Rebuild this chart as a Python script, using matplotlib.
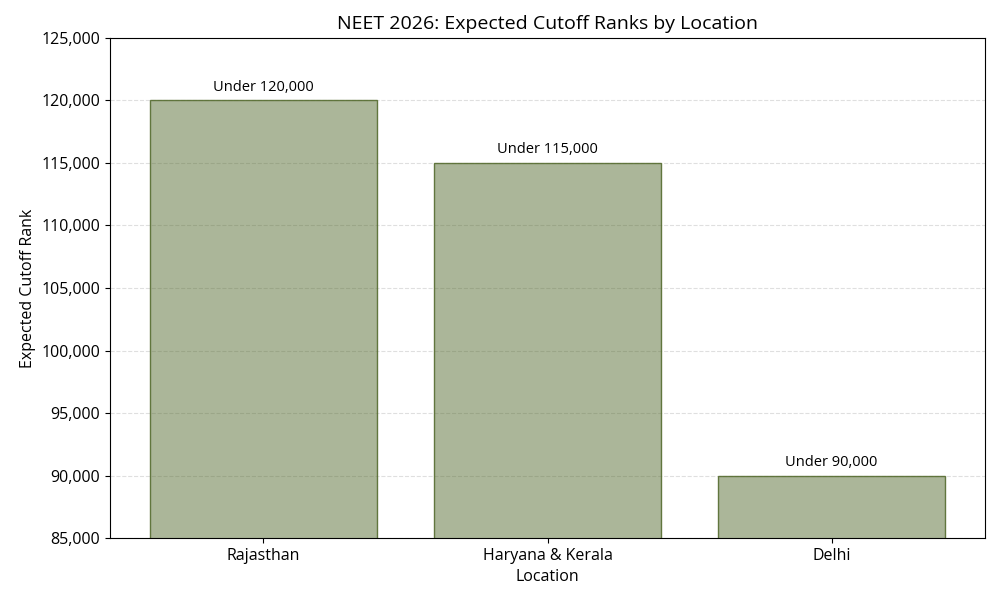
import matplotlib
matplotlib.use('Agg')
import matplotlib.pyplot as plt
from matplotlib.ticker import FuncFormatter

plt.rcParams['font.family'] = ['Open Sans', 'DejaVu Sans']

locations = ['Rajasthan', 'Haryana & Kerala', 'Delhi']
cutoff_ranks = [120000, 115000, 90000]
bar_labels = ['Under 120,000', 'Under 115,000', 'Under 90,000']

olive = (85/255, 107/255, 47/255)
fig, ax = plt.subplots(figsize=(10, 6), dpi=100)
bars = ax.bar(locations, cutoff_ranks, width=0.8, color=olive + (0.49,),
              edgecolor=olive + (0.9,), linewidth=1)

for b, lab in zip(bars, bar_labels):
    ax.annotate(lab, (b.get_x() + b.get_width() / 2, b.get_height()),
                xytext=(0, 4), textcoords='offset points',
                ha='center', va='bottom', fontsize=10.5)

ax.set_ylim(85000, 125000)
ax.yaxis.set_major_formatter(FuncFormatter(lambda v, p: f'{int(v):,}'))
ax.set_axisbelow(True)
ax.grid(axis='y', linestyle='--', alpha=0.4)
ax.tick_params(labelsize=11.5)
ax.set_title('NEET 2026: Expected Cutoff Ranks by Location', fontsize=14)
ax.set_xlabel('Location', fontsize=11.5)
ax.set_ylabel('Expected Cutoff Rank', fontsize=11.5)

plt.subplots_adjust(left=0.11, right=0.985, top=0.937, bottom=0.103)
plt.savefig('out.png')
